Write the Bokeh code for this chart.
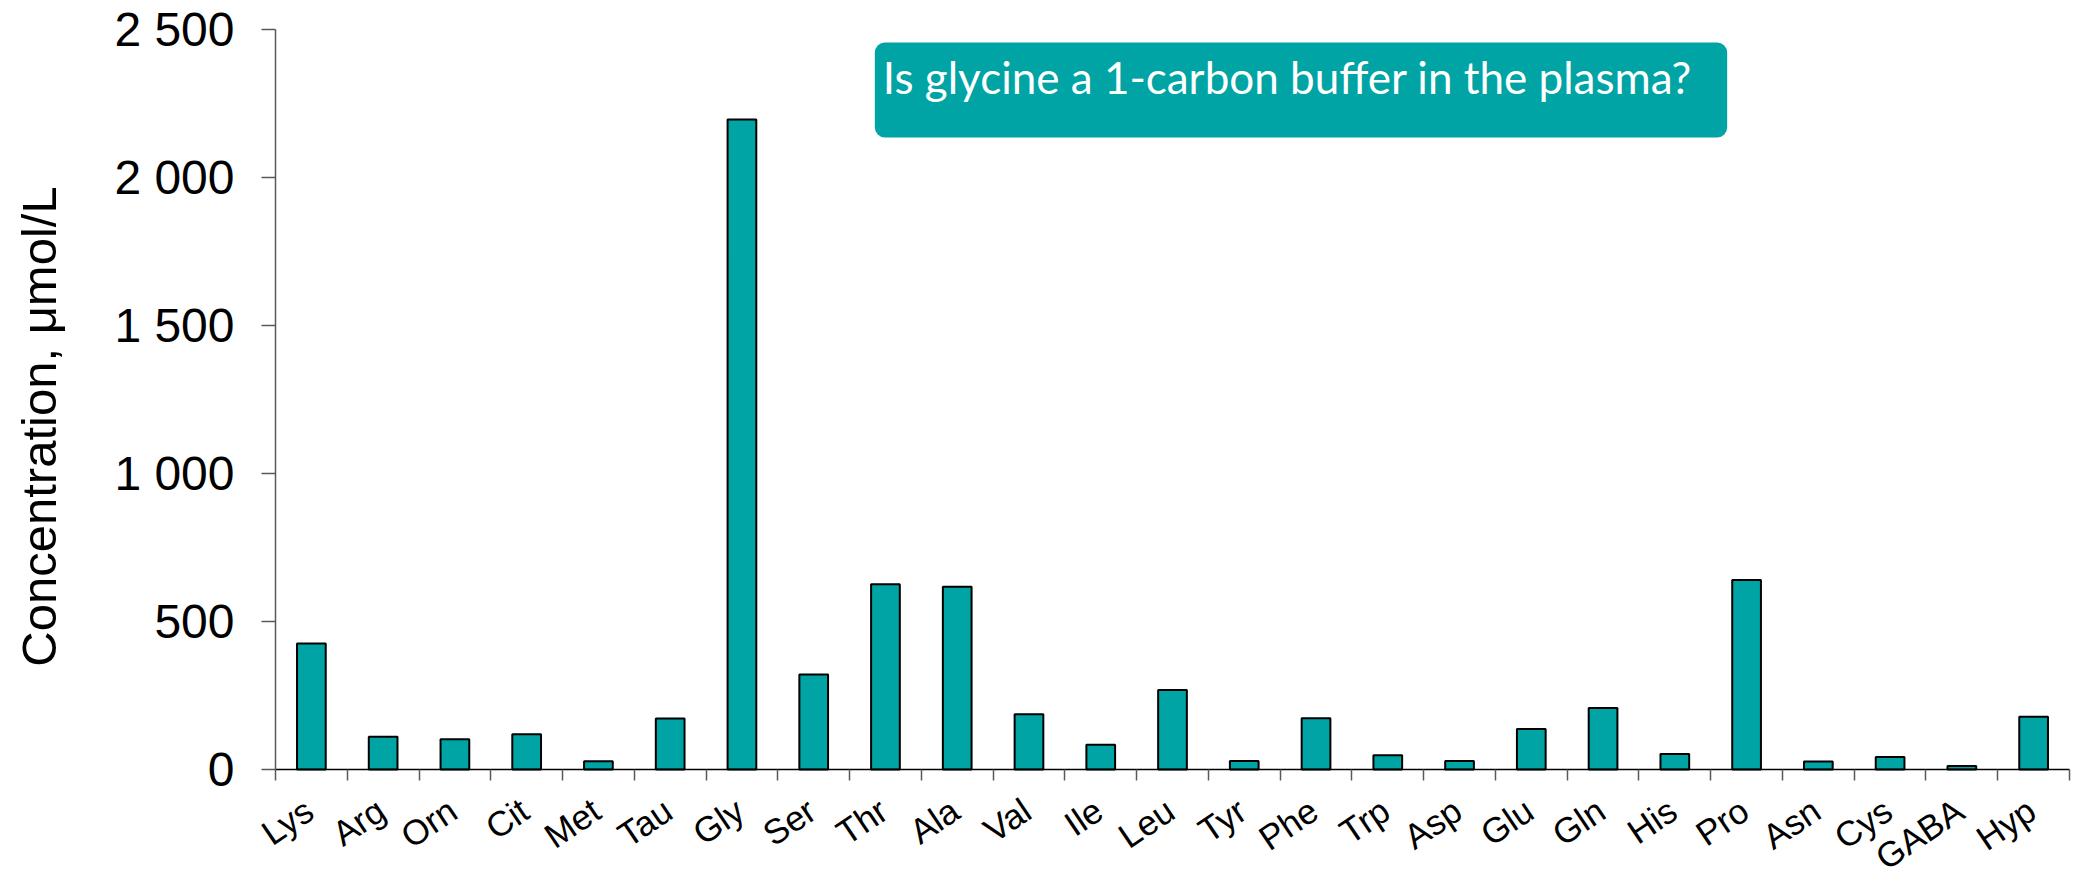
import math
from bokeh.plotting import figure
from bokeh.models import Range1d, FixedTicker, Label, ColumnDataSource
from bokeh.embed import file_html
from bokeh.resources import INLINE

# ---- data ----
amino_acids = ["Lys", "Arg", "Orn", "Cit", "Met", "Tau", "Gly", "Ser", "Thr", "Ala",
               "Val", "Ile", "Leu", "Tyr", "Phe", "Trp", "Asp", "Glu", "Gln", "His",
               "Pro", "Asn", "Cys", "GABA", "Hyp"]
concentration = [426, 111, 102, 119, 28, 172, 2196, 321, 626, 617,
                 187, 84, 269, 29, 173, 48, 29, 137, 208, 52,
                 640, 27, 42, 12, 178]
y_ticks = [0, 500, 1000, 1500, 2000, 2500]
y_label = "Concentration, \u03bcmol/L"
callout = "Is glycine a 1-carbon buffer in the plasma?"

TEAL = "#00A4A4"
GREY = "#595959"

# ---- layout (pixels on the page) ----
W, H = 2074, 875
X0_PX, X1_PX = 275, 2069          # left / right end of the category axis
Y0_PX, Y1_PX = 769, 29            # pixel rows of the first / last y tick
n = len(amino_acids)
cat_px = (X1_PX - X0_PX) / n
unit_px = (Y0_PX - Y1_PX) / (y_ticks[-1] - y_ticks[0])
x_start = -0.5 - X0_PX / cat_px
x_end = n - 0.5 + (W - X1_PX) / cat_px
y_start = y_ticks[0] - (H - Y0_PX) / unit_px
y_end = y_ticks[-1] + Y1_PX / unit_px


def px_x(px):
    return x_start + px / cat_px


def px_y(py):
    return y_end - py / unit_px


idx = list(range(n))
src = ColumnDataSource(dict(x=idx, top=concentration, name=amino_acids))

p = figure(frame_width=W, frame_height=H, output_backend="svg", toolbar_location=None,
           x_range=Range1d(x_start, x_end), y_range=Range1d(y_start, y_end),
           min_border_left=0, min_border_right=0, min_border_top=0, min_border_bottom=0)
p.outline_line_color = None
p.xgrid.grid_line_color = None
p.ygrid.grid_line_color = None
p.background_fill_color = "white"
p.border_fill_color = "white"

p.vbar(x="x", top="top", width=0.4, source=src, fill_color=TEAL,
       line_color="black", line_width=2)

# x axis along y = 0: ticks at category boundaries
xa = p.xaxis[0]
xa.fixed_location = y_ticks[0]
xa.bounds = (-0.5, n - 0.5)
xa.ticker = FixedTicker(ticks=[], minor_ticks=[i - 0.5 for i in range(n + 1)])
xa.major_tick_out = 0
xa.major_tick_in = 0
xa.minor_tick_out = 11
xa.minor_tick_in = 0
xa.minor_tick_line_color = GREY
xa.minor_tick_line_width = 1.5
xa.axis_line_color = "black"
xa.axis_line_width = 1.5
xa.major_label_text_font_size = "0px"

# category names, rotated
for i, name in zip(idx, amino_acids):
    p.add_layout(Label(x=i, y=y_ticks[0], text=name,
                       angle=math.radians(34), text_align="right", text_baseline="middle",
                       x_offset=-2, y_offset=-37,
                       text_font="Liberation Sans", text_font_size="35px", text_color="black"))

# y axis along the left edge of the categories
ya = p.yaxis[0]
ya.fixed_location = -0.5
ya.bounds = (y_ticks[0], y_ticks[-1])
ya.ticker = FixedTicker(ticks=y_ticks, minor_ticks=[])
ya.major_label_overrides = {t: f"{t:,}".replace(",", " ") for t in y_ticks}
ya.major_tick_out = 14
ya.major_tick_in = 0
ya.major_tick_line_color = GREY
ya.major_tick_line_width = 1.5
ya.minor_tick_out = 0
ya.minor_tick_in = 0
ya.axis_line_color = GREY
ya.axis_line_width = 1.5
ya.major_label_text_font = "Liberation Sans"
ya.major_label_text_font_size = "48px"
ya.major_label_text_color = "black"
ya.major_label_standoff = 27

# y axis title
p.add_layout(Label(x=px_x(38), y=px_y(426), text=y_label, angle=math.pi / 2,
                   text_align="center", text_baseline="middle",
                   text_font="Liberation Sans", text_font_size="49px", text_color="black"))

# callout box
p.add_layout(Label(x=px_x(1300.5), y=px_y(89.5), text=callout,
                   text_align="center", text_baseline="middle",
                   text_font="Lato", text_font_size="44px", text_color="white",
                   background_fill_color=TEAL, border_line_color=None,
                   border_radius=10, padding=(8, 35, 8, 35)))

open("out.html", "w").write(file_html(p, INLINE))
